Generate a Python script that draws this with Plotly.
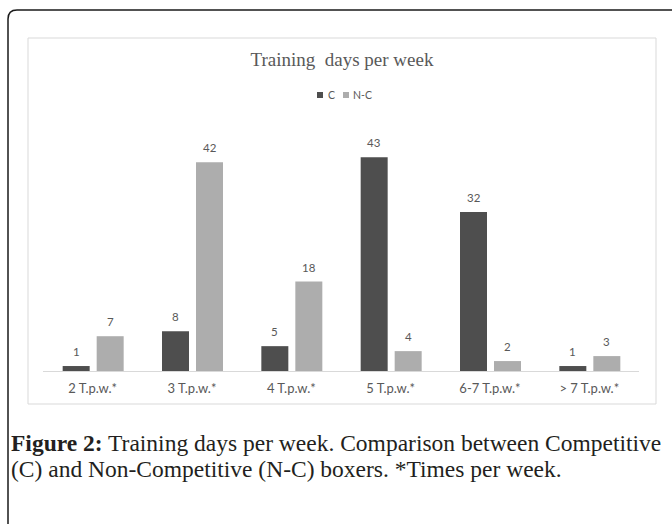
import plotly.graph_objects as go

# ---- data ----
categories = ["2 T.p.w.*", "3 T.p.w.*", "4 T.p.w.*", "5 T.p.w.*", "6-7 T.p.w.*", "> 7 T.p.w.*"]
competitive = [1, 8, 5, 43, 32, 1]
non_competitive = [7, 42, 18, 4, 2, 3]
series_names = ["C", "N-C"]
series_colors = ["#4e4e4e", "#adadad"]
chart_title = "Training  days per week"
caption_bold = "Figure 2:"
caption_line1 = " Training days per week. Comparison between Competitive"
caption_line2 = "(C) and Non-Competitive (N-C) boxers. *Times per week."

# ---- geometry ----
W, H = 672, 524
L, R, T, B = 43, 33, 120, 153
PW, PH = W - L - R, H - T - B
YMAX = PH / 4.97
CAT = PW / len(categories)

def px(x):
    return (x - L) / PW

def py(y):
    return (H - B - y) / PH

bar_w = 27 / CAT
off_c = -30 / CAT
off_n = 4 / CAT

fig = go.Figure()
for name, vals, col, off in ((series_names[0], competitive, series_colors[0], off_c),
                             (series_names[1], non_competitive, series_colors[1], off_n)):
    fig.add_trace(go.Bar(
        x=categories, y=vals, name=name, showlegend=False,
        marker=dict(color=col, line=dict(width=0)),
        width=bar_w, offset=off,
    ))

annotations = []
for vals, off in ((competitive, off_c), (non_competitive, off_n)):
    for c, v in zip(categories, vals):
        annotations.append(dict(
            x=c, y=v, xref="x", yref="y", text=str(v), showarrow=False,
            xshift=(off + bar_w / 2) * CAT, yshift=14.5, yanchor="middle",
            font=dict(family="Lato, Open Sans, sans-serif", size=11.5, color="#595959"),
        ))

# caption (two lines)
cap_font = dict(family="Liberation Serif, serif", size=23.5, color="#231f20")
annotations.append(dict(
    xref="paper", yref="paper", x=px(9), y=py(443), xanchor="left", yanchor="middle",
    align="left", showarrow=False,
    text="<b>" + caption_bold + "</b>" + caption_line1, font=cap_font,
))
annotations.append(dict(
    xref="paper", yref="paper", x=px(9), y=py(469), xanchor="left", yanchor="middle",
    align="left", showarrow=False, text=caption_line2, font=cap_font,
))

shapes = [
    # outer rounded frame
    dict(type="path", xref="paper", yref="paper",
         path=(f"M {px(8)},{py(540)} L {px(8)},{py(19)} "
               f"Q {px(8)},{py(10)} {px(17)},{py(10)} L {px(690)},{py(10)}"),
         line=dict(color="#1a1a1a", width=1.5)),
    # inner chart frame
    dict(type="rect", xref="paper", yref="paper",
         x0=px(28), x1=px(656), y0=py(404), y1=py(38),
         line=dict(color="#d9d9d9", width=1)),
]

# compact legend
leg_font = dict(family="Lato, Open Sans, sans-serif", size=10.5, color="#595959")
leg_items = [(317, 326), (343, 351)]  # square left edge, text left edge (px)
for (sq_x, tx_x), name, col in zip(leg_items, series_names, series_colors):
    shapes.append(dict(type="rect", xref="paper", yref="paper",
                       x0=px(sq_x), x1=px(sq_x + 6), y0=py(98), y1=py(92),
                       fillcolor=col, line=dict(width=0)))
    annotations.append(dict(xref="paper", yref="paper", x=px(tx_x), y=py(95),
                            xanchor="left", yanchor="middle", showarrow=False,
                            text=name, font=leg_font))

fig.update_layout(
    width=W, height=H,
    margin=dict(l=L, r=R, t=T, b=B),
    paper_bgcolor="white", plot_bgcolor="white",
    barmode="overlay",
    title=dict(text=chart_title, x=342 / W, xanchor="center",
               y=1 - 59 / H, yanchor="middle", yref="container",
               font=dict(family="Liberation Serif, serif", size=19, color="#595959")),
    xaxis=dict(showline=True, linecolor="#d9d9d9", linewidth=1, ticks="",
               showgrid=False, zeroline=False, ticklabelstandoff=5,
               tickfont=dict(family="Lato, Open Sans, sans-serif", size=13, color="#595959")),
    yaxis=dict(visible=False, range=[0, YMAX], showgrid=False, zeroline=False),
    annotations=annotations,
    shapes=shapes,
    showlegend=False,
)

fig.write_html("out.html", config={"displayModeBar": False},
               post_script="document.body.style.margin='0';document.body.style.overflow='hidden';")
